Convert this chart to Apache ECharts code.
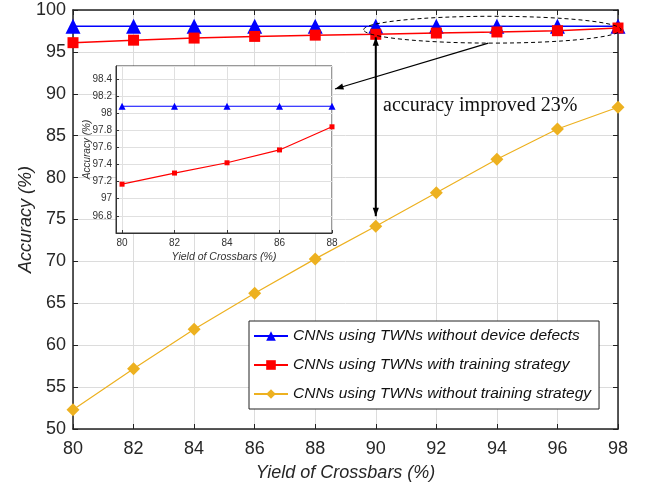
<!DOCTYPE html>
<html>
<head>
<meta charset="utf-8">
<script src="https://cdn.jsdelivr.net/npm/echarts@6/dist/echarts.min.js"></script>
<style>html,body{margin:0;background:#fff}#main{width:645px;height:487px}</style>
</head>
<body>
<div id="main"></div>
<script>
// main plot
var yields = [80, 82, 84, 86, 88, 90, 92, 94, 96, 98];
var noDefects = [98.05, 98.05, 98.05, 98.05, 98.05, 98.05, 98.05, 98.05, 98.05, 98.05];
var withTraining = [96.1, 96.4, 96.65, 96.85, 97.0, 97.1, 97.25, 97.38, 97.53, 97.85];
var withoutTraining = [52.3, 57.2, 61.9, 66.2, 70.3, 74.2, 78.2, 82.2, 85.8, 88.4];
// zoomed inset
var insetYields = [80, 82, 84, 86, 88];
var insetNoDefects = [98.08, 98.08, 98.08, 98.08, 98.08];
var insetWithTraining = [97.17, 97.30, 97.42, 97.57, 97.84];

var names = ['CNNs using TWNs without device defects', 'CNNs using TWNs with training strategy', 'CNNs using TWNs without training strategy'];

function pairs(xs, ys) {
	return xs.map(function (x, i) { return [x, ys[i]]; });
}

var chartDom = document.getElementById('main');
var myChart = echarts.init(chartDom);
var font = '"Liberation Sans", Arial, sans-serif';
var gridLine = {show: true, lineStyle: {color: '#dcdcdc', width: 1}};
var inTick = {show: true, inside: true, length: 5, lineStyle: {color: '#222'}};
var axLine = {show: true, onZero: false, lineStyle: {color: '#222', width: 1.5}};
var bigLabel = {fontSize: 18, color: '#262626', fontFamily: font};
var smallLabel = {fontSize: 10, color: '#333', fontFamily: font};
var insetTick = {show: true, inside: true, length: 3, lineStyle: {color: '#333'}};
var insetLine = {show: true, onZero: false, lineStyle: {color: '#333', width: 1}};

var option = {
	animation: false,
	textStyle: {fontFamily: font},
	grid: [
		{left: 73, top: 10, right: 27, bottom: 52},
		{left: 116, top: 66, width: 216, height: 167, show: true, backgroundColor: '#fff', borderColor: '#333', borderWidth: 1, z: 1}
	],
	legend: {
		data: names, orient: 'vertical', left: 249, top: 321,
		padding: [7, 8, 7, 4], itemGap: 13, itemWidth: 34, itemHeight: 12,
		backgroundColor: '#fff', borderColor: '#222', borderWidth: 1,
		textStyle: {fontSize: 15.5, fontStyle: 'italic', color: '#111', fontFamily: font}
	},
	xAxis: [
		{gridIndex: 0, type: 'value', min: 80, max: 98, interval: 2, axisLine: axLine, axisTick: inTick,
		 splitLine: gridLine, axisLabel: Object.assign({margin: 11}, bigLabel),
		 name: 'Yield of Crossbars (%)', nameLocation: 'middle', nameGap: 35, nameMoveOverlap: false,
		 nameTextStyle: {fontSize: 18, fontStyle: 'italic', color: '#262626', fontFamily: font}},
		{gridIndex: 0, type: 'value', position: 'top', min: 80, max: 98, interval: 2, axisLine: axLine, axisTick: inTick,
		 splitLine: {show: false}, axisLabel: {show: false}},
		{gridIndex: 1, type: 'value', min: 79.77, max: 88, splitNumber: 4, axisLine: insetLine, axisTick: insetTick,
		 splitLine: {show: true, lineStyle: {color: '#e0e0e0'}},
		 axisLabel: Object.assign({margin: 5, showMinLabel: false}, smallLabel),
		 name: 'Yield of Crossbars (%)', nameLocation: 'middle', nameGap: 19, nameMoveOverlap: false,
		 nameTextStyle: {fontSize: 10.5, fontStyle: 'italic', color: '#333', fontFamily: font}, z: 2}
	],
	yAxis: [
		{gridIndex: 0, type: 'value', min: 50, max: 100, interval: 5, axisLine: axLine, axisTick: inTick,
		 splitLine: gridLine, axisLabel: Object.assign({margin: 7}, bigLabel),
		 name: 'Accuracy (%)', nameLocation: 'middle', nameGap: 38, nameMoveOverlap: false,
		 nameTextStyle: {fontSize: 18, fontStyle: 'italic', color: '#262626', fontFamily: font}},
		{gridIndex: 0, type: 'value', position: 'right', min: 50, max: 100, interval: 5, axisLine: axLine, axisTick: inTick,
		 splitLine: {show: false}, axisLabel: {show: false}},
		{gridIndex: 1, type: 'value', min: 96.6, max: 98.55, splitNumber: 10, axisLine: insetLine, axisTick: insetTick,
		 splitLine: {show: true, lineStyle: {color: '#e0e0e0'}},
		 axisLabel: Object.assign({margin: 4, showMinLabel: false, showMaxLabel: false}, smallLabel),
		 name: 'Accuracy (%)', nameLocation: 'middle', nameGap: 24, nameMoveOverlap: false,
		 nameTextStyle: {fontSize: 10, fontStyle: 'italic', color: '#333', fontFamily: font}, z: 2}
	],
	series: [
		{name: names[0], type: 'line', xAxisIndex: 0, yAxisIndex: 0, data: pairs(yields, noDefects),
		 symbol: 'triangle', symbolSize: 15, color: '#0000ff', lineStyle: {width: 1.5}, z: 3},
		{name: names[1], type: 'line', xAxisIndex: 0, yAxisIndex: 0, data: pairs(yields, withTraining),
		 symbol: 'rect', symbolSize: 11, color: '#ff0000', lineStyle: {width: 1.5}, z: 4},
		{name: names[2], type: 'line', xAxisIndex: 0, yAxisIndex: 0, data: pairs(yields, withoutTraining),
		 symbol: 'diamond', symbolSize: 13, color: '#edb120', lineStyle: {width: 1.2}, z: 3},
		{name: 'inset-a', type: 'line', xAxisIndex: 2, yAxisIndex: 2, data: pairs(insetYields, insetNoDefects),
		 symbol: 'triangle', symbolSize: 7, color: '#0000ff', lineStyle: {width: 1.2}, z: 5},
		{name: 'inset-b', type: 'line', xAxisIndex: 2, yAxisIndex: 2, data: pairs(insetYields, insetWithTraining),
		 symbol: 'rect', symbolSize: 5, color: '#ff0000', lineStyle: {width: 1.2}, z: 5}
	]
};
option && myChart.setOption(option);

// annotations placed from data coordinates
function px(x, y) { return myChart.convertToPixel({gridIndex: 0}, [x, y]); }
function head(x1, y1, x2, y2, len) {
	var a = Math.atan2(y2 - y1, x2 - x1), w = 0.35;
	return [[x2, y2],
		[x2 - len * Math.cos(a - w), y2 - len * Math.sin(a - w)],
		[x2 - len * Math.cos(a + w), y2 - len * Math.sin(a + w)]];
}
var stroke = {stroke: '#000', lineWidth: 1.3};
var left = px(89.6, 98)[0], right = px(98.1, 98)[0];
var midY = px(90, 97.65)[1];
var ellTop = px(90, 99.5)[1], ellBot = px(90, 96.3)[1];
var ell = {cx: (left + right) / 2, cy: midY, rx: (right - left) / 2, ry: (ellBot - ellTop) / 2};
var ptFrom = [ell.cx - 4, ell.cy + ell.ry];
var ptTo = [335, 89];
var vx = px(90, 0)[0];
var vTop = px(90, withTraining[5])[1] + 3;
var vBot = px(90, withoutTraining[5])[1] - 10;

myChart.setOption({
	graphic: [
		{type: 'ellipse', shape: ell, style: {stroke: '#000', fill: null, lineWidth: 1, lineDash: [4, 3]}, z: 10},
		{type: 'line', shape: {x1: ptFrom[0], y1: ptFrom[1], x2: ptTo[0], y2: ptTo[1]}, style: stroke, z: 10},
		{type: 'polygon', shape: {points: head(ptFrom[0], ptFrom[1], ptTo[0], ptTo[1], 9)}, style: {fill: '#000'}, z: 10},
		{type: 'line', shape: {x1: vx, y1: vTop, x2: vx, y2: vBot}, style: {stroke: '#000', lineWidth: 2}, z: 10},
		{type: 'polygon', shape: {points: head(vx, vBot, vx, vTop, 9)}, style: {fill: '#000'}, z: 10},
		{type: 'polygon', shape: {points: head(vx, vTop, vx, vBot, 9)}, style: {fill: '#000'}, z: 10},
		{type: 'text', left: 383, top: 96, z: 10,
		 style: {text: 'accuracy improved 23%', font: '20px "Liberation Serif", "Times New Roman", serif', fill: '#111'}}
	]
});
</script>
</body>
</html>
